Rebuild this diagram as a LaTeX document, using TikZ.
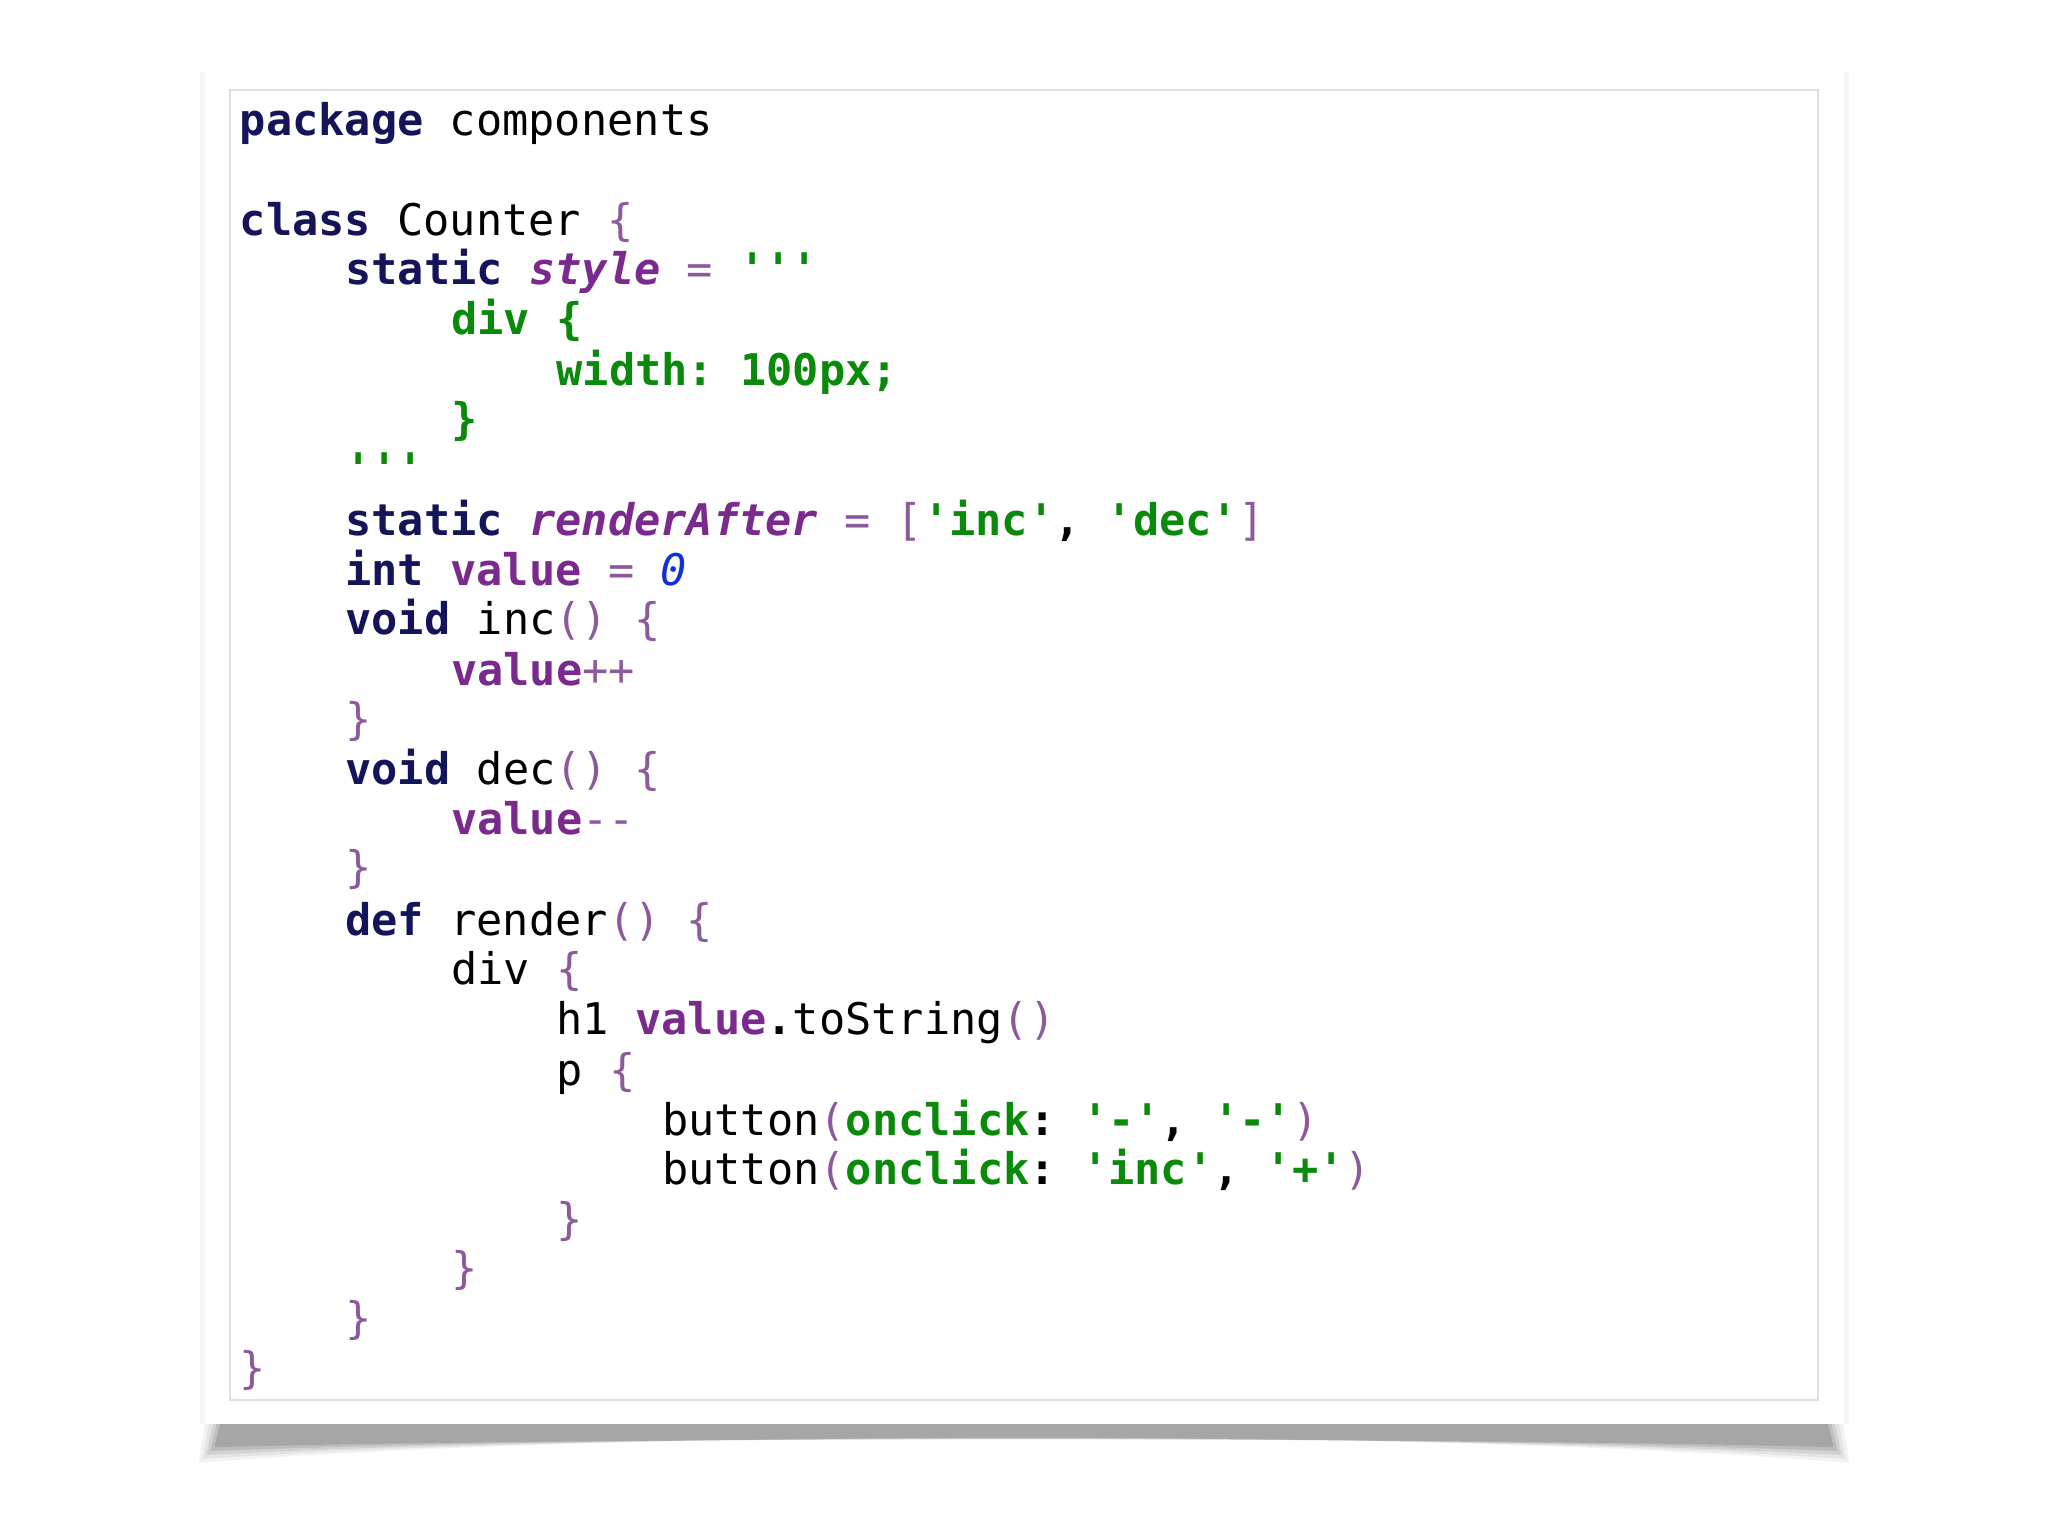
\documentclass[tikz,border=0pt]{standalone}
\usepackage{fontspec}
\newfontfamily\code{DejaVu Sans Mono}
\definecolor{kwc}{HTML}{14145A}
\definecolor{idc}{HTML}{7A2A8C}
\definecolor{pc}{HTML}{8C5A9C}
\definecolor{gc}{HTML}{0A8A0A}
\definecolor{bc}{HTML}{1030E0}
\newcommand\kw[1]{\textcolor{kwc}{\bfseries #1}}
\newcommand\idn[1]{\textcolor{idc}{\bfseries #1}}
\newcommand\idi[1]{\textcolor{idc}{\bfseries\itshape #1}}
\newcommand\pun[1]{\textcolor{pc}{#1}}
\newcommand\str[1]{\textcolor{gc}{\bfseries #1}}
\newcommand\Q{\char39}
\frenchspacing
\tikzset{ln/.style={anchor=base west,inner sep=0pt,font=\code\fontsize{9.5pt}{11pt}\selectfont}}
\begin{document}
\begin{tikzpicture}[x=0.1mm,y=-0.1mm]
\useasboundingbox (0,0) rectangle (1568,1176);
% shadow
\foreach \o/\a in {0/0.05,3/0.06,6/0.08,9/0.1,12/0.12}{
\fill[black,opacity=\a] (158+\o,1085) -- (1410-\o,1085) -- (1416-\o,1120-\o) .. controls (1100,1094+\o/2) and (470,1094+\o/2) .. (152+\o,1120-\o) -- cycle;}
\fill[black,opacity=0.04] (153,55) rectangle (160,1090);
\fill[black,opacity=0.04] (1409,55) rectangle (1416,1090);
\fill[white] (157,50) rectangle (1412,1090);
\draw[gray!25,line width=0.2mm] (176,69) rectangle (1392,1072);
\newcommand\cx[1]{183+#1*20.2}
\node[ln] (l1) at (\cx{0},104) {\kw{package} components};
\node[ln] (l2) at (\cx{0},180) {\kw{class} Counter \pun{\{}};
\node[ln] (l3) at (\cx{4},218) {\kw{static} \idi{style} \pun{=} \str{\Q\Q\Q}};
\node[ln] (l4) at (\cx{8},256) {\str{div \{}};
\node[ln] (l5) at (\cx{12},295) {\str{width: 100px;}};
\node[ln] (l6) at (\cx{8},333) {\str{\}}};
\node[ln] (l7) at (\cx{4},371) {\str{\Q\Q\Q}};
\node[ln] (l8) at (\cx{4},410) {\kw{static} \idi{renderAfter} \pun{=} \pun{[}\str{\Q inc\Q}\textbf{,} \str{\Q dec\Q}\pun{]}};
\node[ln] (l9) at (\cx{4},448) {\kw{int} \idn{value} \pun{=} \textcolor{bc}{\itshape 0}};
\node[ln] (l10) at (\cx{4},486) {\kw{void} inc\pun{()} \pun{\{}};
\node[ln] (l11) at (\cx{8},525) {\idn{value}\pun{++}};
\node[ln] (l12) at (\cx{4},562) {\pun{\}}};
\node[ln] (l13) at (\cx{4},601) {\kw{void} dec\pun{()} \pun{\{}};
\node[ln] (l14) at (\cx{8},639) {\idn{value}\pun{-{}-}};
\node[ln] (l15) at (\cx{4},676) {\pun{\}}};
\node[ln] (l16) at (\cx{4},716) {\kw{def} render\pun{()} \pun{\{}};
\node[ln] (l17) at (\cx{8},754) {div \pun{\{}};
\node[ln] (l18) at (\cx{12},792) {h1 \idn{value}\textbf{.}toString\pun{()}};
\node[ln] (l19) at (\cx{12},831) {p \pun{\{}};
\node[ln] (l20) at (\cx{16},869) {button\pun{(}\str{onclick}\textbf{:} \str{\Q-\Q}\textbf{,} \str{\Q-\Q}\pun{)}};
\node[ln] (l21) at (\cx{16},907) {button\pun{(}\str{onclick}\textbf{:} \str{\Q inc\Q}\textbf{,} \str{\Q+\Q}\pun{)}};
\node[ln] (l22) at (\cx{12},945) {\pun{\}}};
\node[ln] (l23) at (\cx{8},983) {\pun{\}}};
\node[ln] (l24) at (\cx{4},1021) {\pun{\}}};
\node[ln] (l25) at (\cx{0},1059) {\pun{\}}};
\end{tikzpicture}
\end{document}
